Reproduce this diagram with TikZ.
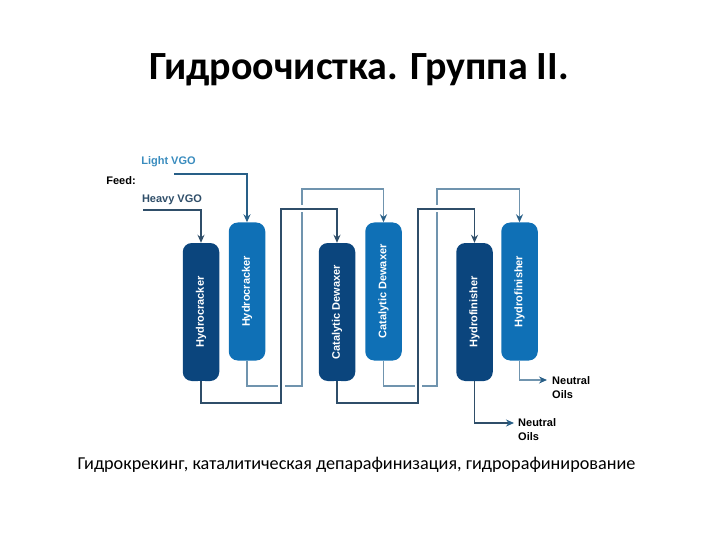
\documentclass[tikz,border=0pt]{standalone}
\usepackage{fontspec}
\setsansfont{Liberation Sans}
\newfontfamily\slidefont{Carlito}
\usepackage{xcolor}
\usetikzlibrary{arrows.meta,positioning}
\definecolor{C_dark}{RGB}{11,69,125}
\definecolor{C_light}{RGB}{15,112,182}
\definecolor{C_pipeD}{RGB}{47,78,105}
\definecolor{C_pipeL}{RGB}{112,148,174}
\definecolor{C_feedL}{RGB}{58,140,190}
\definecolor{C_tip}{RGB}{40,95,135}

\begin{document}
\begin{tikzpicture}[
    x=1pt, y=-1pt,
    font=\sffamily\bfseries,
    vessel/.style={rectangle, rounded corners=9pt, rotate=90, minimum width=138pt, minimum height=36.5pt,
                   inner sep=0pt, text=white, font=\sffamily\bfseries\fontsize{11}{13}\selectfont},
    vesselD/.style={vessel, fill=C_dark},
    vesselL/.style={vessel, fill=C_light},
    tipD/.style={-{Stealth[length=8pt,width=7pt,color=C_pipeD]}},
    tipL/.style={-{Stealth[length=8pt,width=7pt,color=C_tip]}},
    pipeD/.style={draw=C_pipeD, line width=1.3pt},
    pipeX/.style={pipeD, preaction={draw=white, line width=7pt, arrows=-}},
    pipeL/.style={draw=C_pipeL, line width=1.5pt},
    feedL/.style={draw=C_tip, line width=1.3pt},
    tag/.style={inner sep=0pt, font=\sffamily\bfseries\fontsize{11}{14}\selectfont},
]
\useasboundingbox (0,0) rectangle (720,540);

% Slide texts
\node[inner sep=0pt, font=\slidefont\bfseries\fontsize{40}{46}\selectfont] (title) at (359,70) {Гидроочистка. Группа II.};
\node[inner sep=0pt, font=\slidefont\fontsize{18.2}{22}\selectfont] (caption) at (356.5,465) {Гидрокрекинг, каталитическая депарафинизация, гидрорафинирование};

% Feed labels
\node[tag, text=black] (feed) at (121,181) {Feed:};
\node[tag, text=C_feedL] (lvgo) at (168.5,162) {Light VGO};
\node[tag, text=C_pipeD] (hvgo) at (172,200) {Heavy VGO};
\coordinate (lstart) at (174,174);
\coordinate (hstart) at (143,210);

% Product labels
\node[tag, text=black, align=left, anchor=west] (oilD) at (518,429.5) {Neutral\\Oils};
\node[tag, text=black, align=left, anchor=west] (oilL) at (552,387.5) {Neutral\\Oils};
\coordinate (oilDin) at (514,423);
\coordinate (oilLin) at (547,380);

% Vessels
\node[vesselD] (hcD) at (201,312) {Hydrocracker};
\node[vesselL] (hcL) at (247,291.5) {Hydrocracker};
\node[vesselD] (cdD) at (337,312) {Catalytic Dewaxer};
\node[vesselL] (cdL) at (383.5,291.5) {Catalytic Dewaxer};
\node[vesselD] (hfD) at (474.5,312) {Hydrofinisher};
\node[vesselL] (hfL) at (519.5,291.5) {Hydrofinisher};

% Light pipes
\draw[pipeL, tipL] (hcL.west) |- (302,386) -- (302,189) -| (cdL.east);
\draw[pipeL, tipL] (cdL.west) |- (437,386) -- (437,189) -| (hfL.east);
\draw[pipeL, tipL] (hfL.west) |- (oilLin);

% Dark pipes
\draw[pipeX, tipD] (hcD.west) |- (281,403) -- (281,209) -| (cdD.east);
\draw[pipeX, tipD] (cdD.west) |- (418,403) -- (418,209) -| (hfD.east);
\draw[pipeD, tipL] (hfD.west) |- (oilDin);

% Feed pipes
\draw[pipeD, tipD] (hstart) -| (hcD.east);
\draw[feedL, tipL] (lstart) -| (hcL.east);
\end{tikzpicture}
\end{document}
